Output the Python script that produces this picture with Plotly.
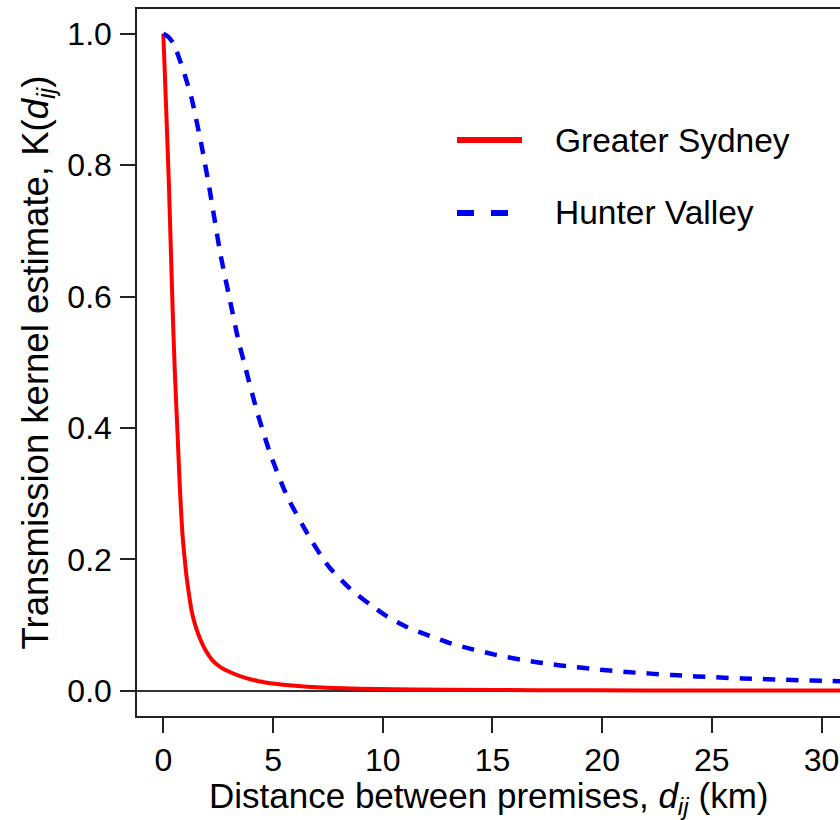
import plotly.graph_objects as go

# Estimated transmission kernel K(d) by region
sydney_d = [0, 0.13, 0.26, 0.42, 0.53, 0.65, 0.76, 0.88, 1.0, 1.08, 1.2, 1.31, 1.5, 1.69,
            1.95, 2.22, 2.6, 3.13, 3.7, 4.34, 5.1, 5.87, 7.23, 9.74, 13.0, 17.0, 22.0,
            27.0, 31.2]
sydney_k = [1.0, 0.885, 0.765, 0.585, 0.48, 0.39, 0.305, 0.235, 0.192, 0.168, 0.140, 0.118,
            0.095, 0.078, 0.060, 0.047, 0.036, 0.027, 0.020, 0.0145, 0.0105, 0.0078, 0.0048,
            0.0025, 0.0014, 0.0008, 0.0005, 0.0003, 0.0002]

hunter_d = [0, 0.2, 0.45, 0.7, 1.0, 1.28, 1.73, 2.10, 2.60, 3.02, 3.43, 3.74, 4.27, 4.88,
            5.64, 6.62, 7.16, 7.61, 8.52, 9.43, 10.2, 11.1, 12.1, 13.1, 14.1, 15.1, 16.0,
            17.1, 18.1, 19.2, 20.2, 21.1, 22.2, 23.2, 24.3, 25.4, 26.4, 27.5, 28.4, 29.5,
            30.5, 31.2]
hunter_k = [1.0, 0.996, 0.986, 0.965, 0.935, 0.903, 0.832, 0.765, 0.665, 0.597, 0.532, 0.492,
            0.425, 0.360, 0.296, 0.236, 0.207, 0.186, 0.155, 0.131, 0.113, 0.097, 0.084,
            0.072, 0.063, 0.055, 0.049, 0.043, 0.0385, 0.0345, 0.031, 0.0285, 0.026, 0.0238,
            0.0218, 0.0200, 0.0187, 0.0175, 0.0165, 0.0156, 0.0148, 0.0142]

x_ticks = [0, 5, 10, 15, 20, 25, 30]
y_ticks = [0.0, 0.2, 0.4, 0.6, 0.8, 1.0]
y_tick_labels = ["0.0", "0.2", "0.4", "0.6", "0.8", "1.0"]

series_names = ["Greater Sydney", "Hunter Valley"]
series_colors = ["#ff0000", "#0000ee"]

FONT = "Liberation Sans, Arial, Helvetica, sans-serif"

fig = go.Figure()
fig.add_trace(go.Scatter(
    x=sydney_d, y=sydney_k, mode="lines", name=series_names[0],
    line=dict(color=series_colors[0], width=4, shape="spline", smoothing=0.8),
    showlegend=False,
))
fig.add_trace(go.Scatter(
    x=hunter_d, y=hunter_k, mode="lines", name=series_names[1],
    line=dict(color=series_colors[1], width=4.5, dash="12.5px,10.8px",
              shape="spline", smoothing=0.6),
    showlegend=False,
))

# Legend drawn by hand so the line samples can be long and thick
legend_rows = [
    dict(y=0.8147, dash="solid"),
    dict(y=0.7115, dash="17px,17px"),
]
for name, color, row in zip(series_names, series_colors, legend_rows):
    x1 = 0.5477 if row["dash"] == "solid" else 0.5378
    fig.add_shape(type="line", xref="paper", yref="paper",
                  x0=0.4552, x1=x1, y0=row["y"], y1=row["y"],
                  line=dict(color=color, width=6, dash=row["dash"]))
    fig.add_annotation(xref="paper", yref="paper", x=0.5917, y=row["y"],
                       text=name, showarrow=False, xanchor="left", yanchor="middle",
                       font=dict(family=FONT, size=33.5, color="black"))

# x-axis title, placed below the tick labels
fig.add_annotation(xref="paper", yref="paper", x=0.5, y=-0.1165,
                   text="Distance between premises, <i>d</i><sub><i>ij</i></sub> (km)",
                   showarrow=False, xanchor="center", yanchor="middle",
                   font=dict(family=FONT, size=35, color="black"))

axis_line = "#222222"
fig.update_layout(
    width=840, height=820,
    margin=dict(l=137, r=0, t=9, b=104),
    paper_bgcolor="white", plot_bgcolor="white",
    font=dict(family=FONT, color="black"),
    xaxis=dict(
        range=[-1.2, 30.84], tickvals=x_ticks, ticktext=[str(v) for v in x_ticks],
        ticks="outside", ticklen=15, tickwidth=1.5, tickcolor=axis_line,
        showline=True, linecolor=axis_line, linewidth=1.5, mirror=True,
        showgrid=False, zeroline=False, ticklabelstandoff=0,
        tickfont=dict(size=32),
    ),
    yaxis=dict(
        range=[-0.0385, 1.0377], tickvals=y_ticks, ticktext=y_tick_labels,
        ticks="outside", ticklen=15, tickwidth=1.5, tickcolor=axis_line,
        showline=True, linecolor=axis_line, linewidth=1.5, mirror=False,
        showgrid=False, zeroline=True, zerolinecolor="#333333", zerolinewidth=1.5,
        tickfont=dict(size=32), ticklabelstandoff=2,
        title=dict(text="Transmission kernel estimate, K(<i>d</i><sub><i>ij</i></sub>)",
                   font=dict(size=36.5), standoff=8),
    ),
)

fig.write_html("out.html")
